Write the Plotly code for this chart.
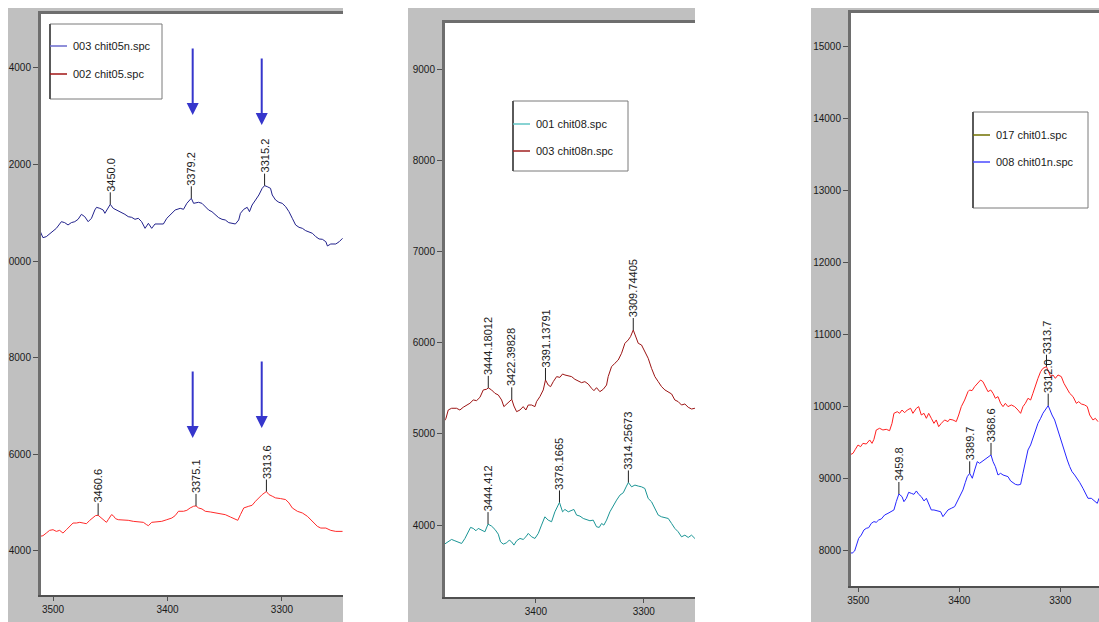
import plotly.graph_objects as go

W, H = 1099, 622
FONT = "Liberation Sans, Arial, sans-serif"

# ---------------- panel 1 : chit05 ----------------
chit05n_wn = [3511.7, 3508.8, 3505.9, 3501.5, 3497.1, 3492.7, 3489.8, 3486.9, 3484.0, 3481.0,
              3478.1, 3475.2, 3472.3, 3469.3, 3466.4, 3463.5, 3462.0, 3459.1, 3456.2, 3454.7,
              3453.3, 3450.0, 3447.4, 3444.5, 3440.1, 3437.2, 3434.3, 3431.3, 3428.4, 3425.5,
              3422.6, 3419.6, 3416.7, 3413.8, 3410.9, 3407.9, 3403.6, 3400.6, 3396.2, 3393.3,
              3388.9, 3386.0, 3383.1, 3379.2, 3377.2, 3372.9, 3369.9, 3367.0, 3364.1, 3361.2,
              3358.2, 3355.3, 3352.4, 3349.5, 3346.5, 3343.6, 3340.7, 3337.8, 3336.3, 3333.4,
              3330.4, 3328.4, 3326.1, 3323.1, 3320.2, 3317.3, 3315.2, 3312.9, 3310.0, 3308.5,
              3305.6, 3302.7, 3299.8, 3296.8, 3293.9, 3291.0, 3288.1, 3285.1, 3282.2, 3279.3,
              3276.4, 3273.4, 3270.5, 3267.6, 3264.7, 3261.7, 3260.3, 3257.4, 3253.0, 3250.0,
              3247.1]
chit05n_int = [10642, 10483, 10504, 10587, 10676, 10814, 10794, 10746, 10794, 10814,
               10863, 10966, 10918, 10814, 10884, 11056, 11111, 11090, 11056, 10987,
               11042, 11173, 11090, 11056, 10987, 10966, 10918, 10904, 10863, 10884,
               10814, 10676, 10780, 10676, 10766, 10766, 10766, 10884, 10987, 11056,
               11090, 11070, 11194, 11298, 11194, 11215, 11194, 11125, 11056, 11021,
               10952, 10897, 10863, 10849, 10794, 10780, 10766, 10849, 10987, 11070,
               11111, 11021, 11159, 11263, 11366, 11504, 11560, 11539, 11504, 11366,
               11263, 11215, 11194, 11125, 11021, 10884, 10746, 10697, 10676, 10628,
               10607, 10573, 10504, 10456, 10449, 10400, 10311, 10352, 10352, 10400,
               10469]
chit05n_peaks = ["3450.0", "3379.2", "3315.2"]

chit05_wn = [3511.7, 3508.8, 3505.9, 3503.0, 3500.0, 3497.1, 3494.2, 3491.3, 3488.3, 3485.4,
             3482.5, 3479.6, 3476.6, 3473.7, 3470.8, 3467.9, 3464.9, 3462.9, 3460.6, 3457.6,
             3454.7, 3453.3, 3451.8, 3448.9, 3447.4, 3445.4, 3443.0, 3438.6, 3434.3, 3429.9,
             3425.5, 3421.1, 3418.2, 3416.7, 3413.8, 3409.4, 3405.0, 3400.6, 3396.2, 3393.3,
             3390.4, 3386.0, 3383.1, 3380.2, 3377.2, 3375.1, 3372.9, 3369.9, 3367.0, 3362.6,
             3358.2, 3353.8, 3349.5, 3345.1, 3340.7, 3338.6, 3336.3, 3333.4, 3329.0, 3326.1,
             3323.1, 3320.2, 3317.3, 3313.6, 3311.4, 3308.5, 3305.6, 3301.2, 3296.8, 3293.9,
             3291.0, 3286.6, 3282.2, 3277.8, 3273.4, 3269.1, 3266.1, 3261.7, 3257.4, 3253.0,
             3247.1]
chit05_int = [4299, 4313, 4368, 4424, 4438, 4403, 4424, 4368, 4438, 4507,
              4576, 4576, 4590, 4576, 4562, 4632, 4680, 4729, 4736, 4680,
              4611, 4590, 4645, 4749, 4729, 4666, 4645, 4645, 4632, 4611,
              4604, 4590, 4541, 4521, 4590, 4597, 4611, 4645, 4680, 4729,
              4819, 4819, 4839, 4888, 4923, 4930, 4888, 4867, 4819, 4805,
              4784, 4770, 4749, 4701, 4645, 4632, 4749, 4888, 4923, 4943,
              5027, 5096, 5165, 5228, 5165, 5131, 5096, 5082, 5061, 4992,
              4888, 4819, 4784, 4715, 4611, 4507, 4472, 4472, 4424, 4403,
              4403]
chit05_peaks = ["3460.6", "3375.1", "3313.6"]

p1_yticks = [4000, 6000, 8000, 10000, 12000, 14000]
p1_yticktext = ["4000", "6000", "8000", "0000", "2000", "4000"]
p1_xticks = [3500, 3400, 3300]

# ---------------- panel 2 : chit08 ----------------
chit08n_wn = [3485.3, 3483.4, 3481.3, 3478.2, 3473.6, 3470.5, 3467.4, 3464.3, 3461.2, 3458.1,
              3455.0, 3451.9, 3448.8, 3445.7, 3444.18012, 3441.1, 3438.0, 3434.9, 3431.8, 3429.7,
              3427.2, 3424.1, 3422.39828, 3420.4, 3417.9, 3414.8, 3411.8, 3409.3, 3407.1, 3404.0,
              3400.9, 3399.4, 3396.3, 3393.2, 3391.13791, 3388.6, 3386.4, 3383.9, 3380.8, 3377.8,
              3375.3, 3373.1, 3370.0, 3366.9, 3363.9, 3360.8, 3357.7, 3354.6, 3351.5, 3348.4,
              3346.2, 3343.8, 3340.7, 3337.6, 3334.5, 3333.0, 3329.9, 3326.8, 3323.7, 3320.6,
              3317.5, 3314.4, 3312.3, 3309.74405, 3307.3, 3305.1, 3302.1, 3299.0, 3295.9, 3292.8,
              3289.7, 3286.6, 3283.5, 3280.4, 3277.3, 3274.2, 3271.2, 3268.1, 3265.0, 3261.9,
              3258.8, 3255.7, 3252.6, 3250.5]
chit08n_int = [5134, 5171, 5262, 5281, 5281, 5262, 5292, 5317, 5336, 5372,
               5365, 5401, 5482, 5490, 5505, 5482, 5445, 5427, 5372, 5299,
               5328, 5365, 5379, 5306, 5244, 5262, 5299, 5262, 5317, 5317,
               5299, 5354, 5409, 5482, 5591, 5536, 5518, 5573, 5628, 5620,
               5657, 5646, 5635, 5628, 5599, 5584, 5562, 5573, 5547, 5500,
               5474, 5507, 5463, 5489, 5536, 5628, 5737, 5774, 5810, 5884,
               5993, 6030, 6066, 6139, 6066, 5993, 5975, 5902, 5829, 5719,
               5628, 5573, 5518, 5482, 5463, 5438, 5372, 5354, 5317, 5328,
               5292, 5273, 5281, 5281]
chit08n_peaks = ["3444.18012", "3422.39828", "3391.13791", "3309.74405"]

chit08_wn = [3487.5, 3484.4, 3481.3, 3478.2, 3475.1, 3472.0, 3468.9, 3465.8, 3462.7, 3460.6,
             3458.1, 3455.6, 3453.5, 3450.4, 3447.3, 3444.412, 3441.1, 3438.0, 3434.9, 3432.8,
             3430.3, 3427.2, 3424.7, 3422.6, 3420.4, 3417.9, 3414.8, 3411.8, 3409.3, 3407.1,
             3404.0, 3400.9, 3397.8, 3394.8, 3391.7, 3388.6, 3385.5, 3382.4, 3378.1665, 3375.3,
             3373.1, 3370.0, 3366.9, 3364.8, 3362.3, 3359.2, 3356.1, 3353.0, 3349.9, 3346.9,
             3343.8, 3341.3, 3339.1, 3337.0, 3334.5, 3331.4, 3328.3, 3325.2, 3322.1, 3319.0,
             3316.0, 3314.25673, 3311.3, 3308.2, 3305.1, 3302.1, 3299.0, 3295.9, 3292.8, 3289.7,
             3286.6, 3283.5, 3280.4, 3277.3, 3274.2, 3271.2, 3268.1, 3265.0, 3261.9, 3258.8,
             3255.7, 3252.6, 3250.5]
chit08_int = [3770, 3792, 3817, 3843, 3828, 3817, 3799, 3854, 3927, 3975,
              3964, 3938, 3964, 3945, 3927, 4011, 3989, 3953, 3901, 3817,
              3792, 3806, 3836, 3817, 3781, 3828, 3854, 3843, 3872, 3909,
              3872, 3854, 3909, 4000, 4091, 4055, 4037, 4146, 4249, 4146,
              4172, 4146, 4165, 4172, 4110, 4099, 4073, 4062, 4048, 4055,
              3982, 3975, 4018, 4000, 4055, 4146, 4219, 4274, 4329, 4355,
              4428, 4468, 4420, 4439, 4428, 4420, 4402, 4292, 4256, 4183,
              4110, 4091, 4084, 4073, 4018, 3964, 3927, 3872, 3890, 3865,
              3890, 3854, 3872]
chit08_peaks = ["3444.412", "3378.1665", "3314.25673"]

p2_yticks = [4000, 5000, 6000, 7000, 8000, 9000]
p2_yticktext = ["4000", "5000", "6000", "7000", "8000", "9000"]
p2_xticks = [3400, 3300]

# ---------------- panel 3 : chit01 ----------------
chit01_wn = [3508.6, 3505.2, 3502.9, 3500.3, 3497.7, 3495.4, 3492.1, 3488.7, 3486.4, 3484.5,
             3482.2, 3478.9, 3475.6, 3472.3, 3469.0, 3466.6, 3464.7, 3461.4, 3459.1, 3456.7,
             3454.1, 3451.5, 3448.2, 3445.9, 3442.5, 3440.2, 3437.6, 3434.9, 3432.6, 3430.3,
             3427.7, 3425.1, 3422.8, 3420.4, 3417.8, 3414.5, 3411.2, 3409.6, 3406.3, 3403.0,
             3400.6, 3398.0, 3394.7, 3391.4, 3389.8, 3387.4, 3384.8, 3381.5, 3378.9, 3376.6,
             3374.2, 3371.6, 3368.9, 3366.6, 3364.3, 3361.7, 3359.1, 3356.7, 3354.4, 3351.8,
             3348.5, 3345.2, 3341.9, 3339.3, 3337.0, 3334.6, 3332.0, 3329.4, 3327.1, 3324.7,
             3322.1, 3319.5, 3317.2, 3313.7, 3312.2, 3309.6, 3307.3, 3304.9, 3302.3, 3299.0,
             3296.4, 3293.7, 3290.7, 3287.4, 3284.1, 3281.8, 3279.2, 3275.9, 3273.3, 3270.9,
             3267.7, 3265.3, 3262.7]
chit01_int = [9329, 9353, 9408, 9468, 9445, 9491, 9482, 9538, 9491, 9547,
              9677, 9700, 9677, 9686, 9667, 9769, 9908, 9931, 9908, 9954,
              9917, 9954, 9978, 9908, 9978, 10001, 9885, 9908, 9839, 9908,
              9839, 9769, 9816, 9723, 9769, 9816, 9793, 9825, 9816, 9793,
              9885, 10001, 10093, 10209, 10232, 10223, 10279, 10325, 10371, 10348,
              10279, 10209, 10232, 10186, 10117, 10140, 10047, 10001, 10047, 10001,
              10024, 10001, 9954, 9908, 10001, 10047, 10117, 10093, 10186, 10302,
              10394, 10487, 10533, 10556, 10510, 10418, 10441, 10394, 10441, 10418,
              10325, 10255, 10186, 10140, 10047, 10070, 10038, 10024, 10001, 9885,
              9816, 9839, 9793]
chit01_peaks = ["3313.7"]

chit01n_wn = [3508.6, 3506.2, 3503.6, 3502.0, 3499.6, 3497.0, 3494.4, 3492.1, 3489.7, 3487.1,
              3484.5, 3482.2, 3479.8, 3477.2, 3473.9, 3470.6, 3467.3, 3464.7, 3462.4, 3459.8,
              3456.7, 3454.8, 3452.4, 3450.1, 3447.5, 3444.9, 3442.5, 3440.2, 3437.6, 3434.9,
              3432.6, 3430.3, 3427.7, 3425.1, 3421.8, 3418.5, 3416.2, 3413.8, 3411.2, 3407.9,
              3404.6, 3401.3, 3398.7, 3396.4, 3394.0, 3392.1, 3389.7, 3387.1, 3384.8, 3382.2,
              3379.9, 3377.5, 3374.9, 3372.3, 3368.6, 3366.6, 3364.3, 3361.7, 3359.1, 3356.7,
              3354.4, 3351.8, 3349.2, 3346.9, 3344.5, 3341.9, 3339.3, 3337.0, 3334.6, 3332.0,
              3329.4, 3327.1, 3324.7, 3322.1, 3319.5, 3317.2, 3312.0, 3310.6, 3308.2, 3305.6,
              3303.0, 3300.6, 3298.3, 3295.7, 3293.1, 3290.7, 3288.4, 3285.8, 3283.2, 3280.9,
              3277.6, 3275.2, 3272.6, 3269.3, 3266.0, 3263.4, 3261.7]
chit01n_int = [7987, 7964, 7996, 8080, 8172, 8218, 8288, 8311, 8320, 8380,
               8404, 8395, 8427, 8441, 8496, 8519, 8542, 8566, 8681, 8788,
               8751, 8681, 8728, 8811, 8797, 8783, 8830, 8783, 8751, 8691,
               8728, 8658, 8566, 8566, 8552, 8542, 8473, 8519, 8566, 8589,
               8612, 8705, 8774, 8844, 8950, 9029, 9075, 9006, 9121, 9237,
               9214, 9237, 9260, 9283, 9330, 9237, 9168, 9052, 9075, 9052,
               9043, 9029, 8969, 8950, 8922, 8913, 8922, 9075, 9237, 9399,
               9469, 9561, 9654, 9770, 9839, 9909, 10015, 9955, 9885, 9816,
               9700, 9584, 9469, 9376, 9260, 9168, 9098, 9052, 9006, 8950,
               8867, 8797, 8728, 8728, 8681, 8658, 8728]
chit01n_peaks = ["3459.8", "3389.7", "3368.6", "3312.0"]

p3_yticks = [8000, 9000, 10000, 11000, 12000, 13000, 14000, 15000]
p3_yticktext = ["8000", "9000", "10000", "11000", "12000", "13000", "14000", "15000"]
p3_xticks = [3500, 3400, 3300]

# ---------------- layout geometry (pixels) ----------------
def fx(x):
    return x / W


def fy(y):
    return 1 - y / H


panels = [
    dict(frame=(8, 8, 343, 622), plot=(41, 14, 343, 595),
         xr=[3510.5, 3246.7], yr=[3086, 15113],
         xt=p1_xticks, yt=p1_yticks, ytt=p1_yticktext,
         series=[("003 chit05n.spc", chit05n_wn, chit05n_int, chit05n_peaks, "#22228c"),
                 ("002 chit05.spc", chit05_wn, chit05_int, chit05_peaks, "#ff2a2a")],
         legend=dict(box=(50, 24, 162, 99), rows=[46, 74],
                     swatch=["#6a6acd", "#a01414"])),
    dict(frame=(408, 8, 695, 622), plot=(445, 23, 695, 597),
         xr=[3484.3, 3252.5], yr=[3212, 9505],
         xt=p2_xticks, yt=p2_yticks, ytt=p2_yticktext,
         series=[("001 chit08.spc", chit08_wn, chit08_int, chit08_peaks, "#1a9595"),
                 ("003 chit08n.spc", chit08n_wn, chit08n_int, chit08n_peaks, "#9c1414")],
         legend=dict(box=(513, 101, 628, 171), rows=[124, 151],
                     swatch=["#60c4c4", "#a02020"])),
    dict(frame=(811, 8, 1099, 622), plot=(851, 13, 1099, 586),
         xr=[3507.2, 3261.7], yr=[7510, 15468],
         xt=p3_xticks, yt=p3_yticks, ytt=p3_yticktext,
         series=[("017 chit01.spc", chit01_wn, chit01_int, chit01_peaks, "#ff2020"),
                 ("008 chit01n.spc", chit01n_wn, chit01n_int, chit01n_peaks, "#2626ff")],
         legend=dict(box=(973, 112, 1088, 208), rows=[135, 162],
                     swatch=["#707000", "#4a4aff"])),
]

# arrows marking the amide bands in chit05: (wavenumber, tail, tip)
p1_arrows = [(3378.0, 14430, 13022), (3317.7, 14223, 12815),
             (3378.0, 7744, 6336), (3317.7, 7951, 6543)]

fig = go.Figure()
shapes = []
annotations = []
LABEL_STEM = 12  # px
LABEL_SIZE = 11
NO_LINE = dict(width=0, color="rgba(0,0,0,0)")


def text_len(s, size):
    return sum(0.556 if c.isdigit() else 0.278 for c in s) * size


for i, p in enumerate(panels, start=1):
    xs = "" if i == 1 else str(i)
    xref, yref = "x" + xs, "y" + xs
    l, t, r, b = p["plot"]
    fl, ft, fr, fb = p["frame"]

    # grey window frame and white plotting area (the plot runs off the window's right edge)
    shapes.append(dict(type="rect", xref="paper", yref="paper",
                       x0=fx(fl), x1=fx(fr), y0=fy(fb), y1=fy(ft),
                       fillcolor="#c0c0c0", line=NO_LINE, layer="below"))
    shapes.append(dict(type="rect", xref="paper", yref="paper",
                       x0=fx(l - 1), x1=fx(min(r + 2, W)), y0=fy(b), y1=fy(t),
                       fillcolor="white", line=NO_LINE, layer="below"))
    # heavy top edge of the plotting area
    shapes.append(dict(type="line", xref="paper", yref="paper",
                       x0=fx(l - 3), x1=fx(r), y0=fy(t - 1.5), y1=fy(t - 1.5),
                       line=dict(color="#6e6e6e", width=3)))

    axis_font = dict(family=FONT, size=10, color="#1a1a1a")
    fig.update_layout(**{
        "xaxis" + xs: dict(domain=[fx(l), fx(r)], range=p["xr"], anchor=yref,
                           automargin=False,
                           showgrid=False, zeroline=False, showline=True,
                           linecolor="#505050", linewidth=2,
                           ticks="outside", ticklen=4, tickcolor="#505050",
                           tickvals=p["xt"], ticktext=[str(v) for v in p["xt"]],
                           tickfont=axis_font, fixedrange=True),
        "yaxis" + xs: dict(domain=[fy(b), fy(t)], range=p["yr"], anchor=xref,
                           automargin=False,
                           showgrid=False, zeroline=False, showline=True,
                           linecolor="#6e6e6e", linewidth=3,
                           ticks="outside", ticklen=5, tickcolor="#505050",
                           tickvals=p["yt"], ticktext=p["ytt"],
                           tickfont=axis_font, fixedrange=True),
    })

    for name, wn, inten, peaks, color in p["series"]:
        assert len(wn) == len(inten), name
        fig.add_trace(go.Scatter(x=wn, y=inten, mode="lines", name=name,
                                 line=dict(color=color, width=1),
                                 xaxis=xref, yaxis=yref, showlegend=False,
                                 hoverinfo="skip"))
        lookup = dict(zip(wn, inten))
        for lab in peaks:
            pw = float(lab)
            pv = lookup[pw]
            shapes.append(dict(type="line", xref=xref, yref=yref,
                               x0=pw, x1=pw, ysizemode="pixel", yanchor=pv,
                               y0=0, y1=LABEL_STEM,
                               line=dict(color="#202020", width=1)))
            annotations.append(dict(xref=xref, yref=yref, x=pw, y=pv,
                                    text=lab, showarrow=False, textangle=-90,
                                    yshift=LABEL_STEM + 1 + text_len(lab, LABEL_SIZE) / 2,
                                    font=dict(family=FONT, size=LABEL_SIZE, color="#202020")))

    # legend box
    lg = p["legend"]
    bl, bt, br, bb = lg["box"]
    shapes.append(dict(type="rect", xref="paper", yref="paper",
                       x0=fx(bl), x1=fx(br), y0=fy(bb), y1=fy(bt),
                       fillcolor="white", line=dict(color="#7a7a7a", width=1)))
    shapes.append(dict(type="line", xref="paper", yref="paper",
                       x0=fx(bl), x1=fx(bl), y0=fy(bb), y1=fy(bt),
                       line=dict(color="#5a5a5a", width=2)))
    for (name, *_rest), row, sw in zip(p["series"], lg["rows"], lg["swatch"]):
        shapes.append(dict(type="line", xref="paper", yref="paper",
                           x0=fx(bl), x1=fx(bl + 17), y0=fy(row), y1=fy(row),
                           line=dict(color=sw, width=1.5)))
        annotations.append(dict(xref="paper", yref="paper", x=fx(bl + 21), y=fy(row),
                                xanchor="left", yanchor="middle", text=name,
                                showarrow=False,
                                font=dict(family=FONT, size=11, color="#1a1a1a")))

for wn_a, tail, tip in p1_arrows:
    annotations.append(dict(xref="x", yref="y", axref="x", ayref="y",
                            x=wn_a, y=tip, ax=wn_a, ay=tail, text="",
                            showarrow=True, arrowhead=2, arrowsize=1.2,
                            arrowwidth=2, arrowcolor="#3636cc"))

fig.update_layout(width=W, height=H, margin=dict(l=0, r=0, t=0, b=0, pad=0,
                                                 autoexpand=False),
                  paper_bgcolor="white", plot_bgcolor="rgba(0,0,0,0)",
                  showlegend=False, shapes=shapes, annotations=annotations,
                  font=dict(family=FONT))

fig.write_html("out.html", config={"displayModeBar": False})
